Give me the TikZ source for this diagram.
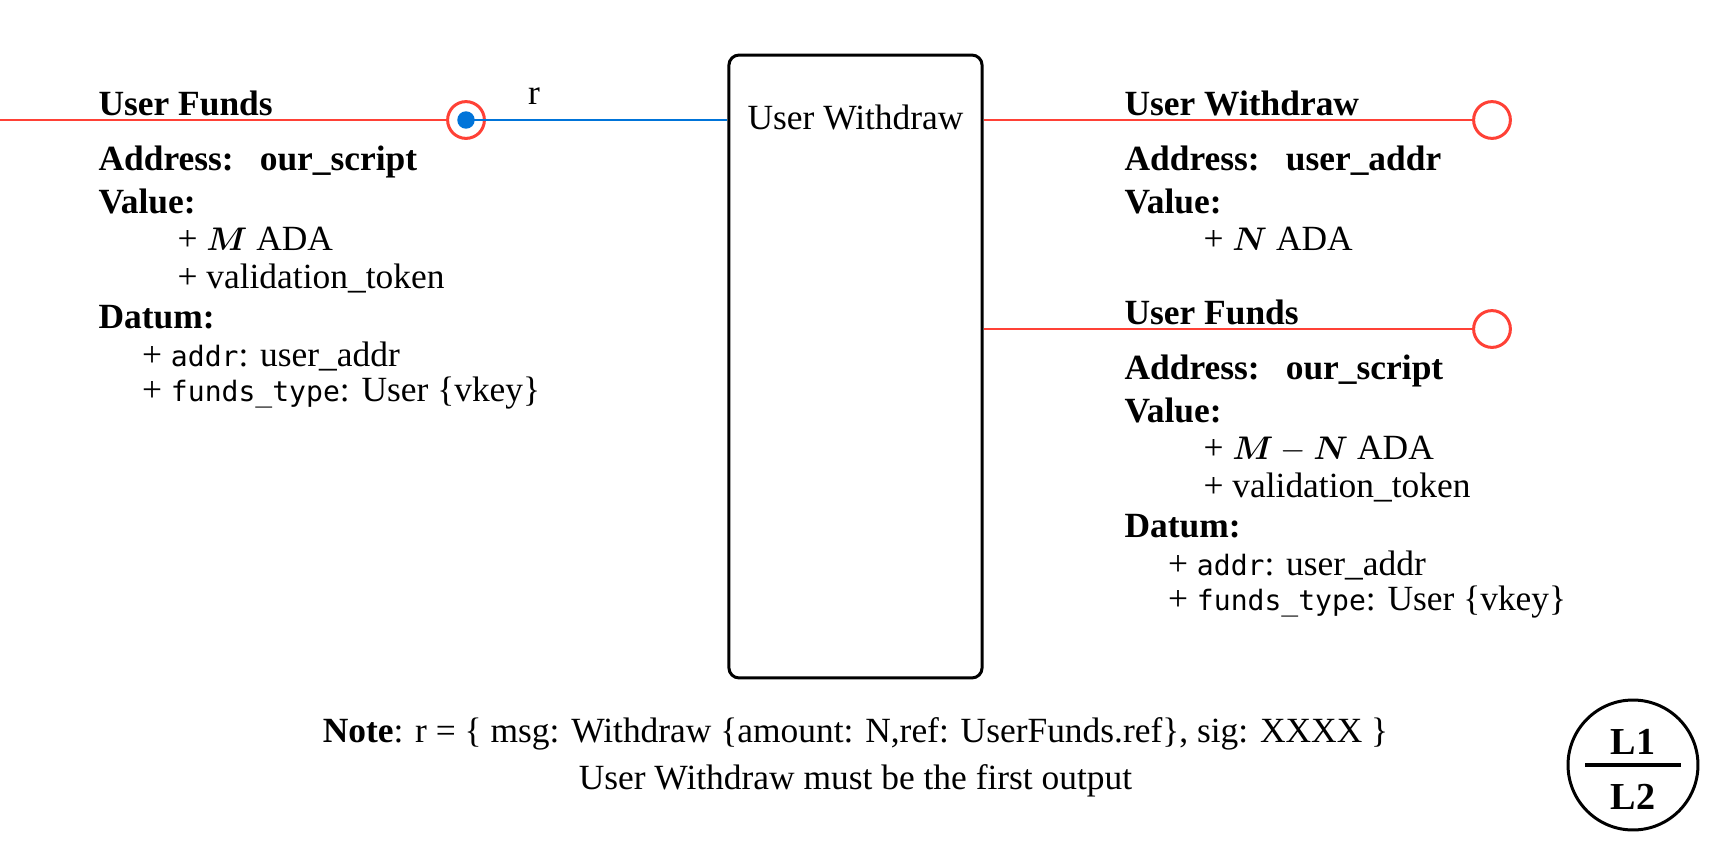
\documentclass[tikz,border=0pt]{standalone}
\usepackage{fontspec}
\setmainfont{Liberation Serif}
\setmonofont{DejaVu Sans Mono}
\usepackage{bm}
\usetikzlibrary{positioning}
\definecolor{utxored}{HTML}{FF4136}
\definecolor{utxoblue}{HTML}{0074D9}
\newcommand{\rawcode}[1]{{\fontsize{10.3}{12}\selectfont\ttfamily #1}}
\newcommand{\addrline}[1]{\makebox[59.2pt][l]{\textbf{Address:}}\textbf{#1}}

\begin{document}
\begin{tikzpicture}[x=0.367pt, y=-0.367pt,
  every node/.style={inner sep=0pt},
  font=\fontsize{13}{12.8}\selectfont,
  info/.style={anchor=base west},
  port/.style={circle, draw=utxored, line width=1.1pt, fill=white, minimum size=13.5pt},
  portdot/.style={circle, fill=utxoblue, minimum size=6.4pt},
  validator/.style={draw, line width=1.1pt, rounded corners=3.7pt,
                    minimum width=92.9pt, minimum height=228.6pt},
  redline/.style={draw=utxored, line width=1pt},
  blueline/.style={draw=utxoblue, line width=1pt},
  layertext/.style={anchor=base, font=\fontsize{14}{12.8}\selectfont\bfseries}
]
\useasboundingbox (0,0) rectangle (1709,843);

% Validator
\node[validator] (withdraw) at (855.5,366.5) {};
\node[anchor=base] (withdrawTitle) at (855.5,129) {User Withdraw};

% Ports
\coordinate (inStart) at (0,120);
\node[port] (inFunds) at (466,120) {};
\node[portdot] (inFundsDot) at (inFunds) {};
\node[port] (outWithdraw) at (1492,120) {};
\node[port] (outFunds) at (1492,329) {};

% Connectors
\draw[redline] (inStart) -- (inFunds);
\draw[blueline] (inFunds.center) -- (inFunds -| withdraw.west)
  node[pos=0.26, above=5.1pt] (rLabel) {r};
\draw[redline] (withdraw.east |- outWithdraw) -- (outWithdraw);
\draw[redline] (withdraw.east |- outFunds) -- (outFunds);

% Input
\node[info] (inFundsInfo) at (98,115) {\begin{tabular}[t]{@{}l@{}}
  \textbf{User Funds}\\[7.4pt]
  \addrline{our\_script}\\[3pt]
  \textbf{Value:}\\[0.8pt]
  \hspace*{29pt}+ $\bm{M}$ ADA\\[1.2pt]
  \hspace*{29pt}+ validation\_token\\[1.9pt]
  \textbf{Datum:}\\[1.1pt]
  \hspace*{16pt}+ \rawcode{addr}: user\_addr\\
  \hspace*{16pt}+ \rawcode{funds\_type}: User \{vkey\}
\end{tabular}};

% Outputs
\node[info] (outWithdrawInfo) at (1124,115) {\begin{tabular}[t]{@{}l@{}}
  \textbf{User Withdraw}\\[7.4pt]
  \addrline{user\_addr}\\[3pt]
  \textbf{Value:}\\[0.8pt]
  \hspace*{29pt}+ $\bm{N}$ ADA
\end{tabular}};

\node[info] (outFundsInfo) at (1124,324) {\begin{tabular}[t]{@{}l@{}}
  \textbf{User Funds}\\[7.4pt]
  \addrline{our\_script}\\[3pt]
  \textbf{Value:}\\[0.8pt]
  \hspace*{29pt}+ $\bm{M}-\bm{N}$ ADA\\[1.2pt]
  \hspace*{29pt}+ validation\_token\\[1.9pt]
  \textbf{Datum:}\\[1.1pt]
  \hspace*{16pt}+ \rawcode{addr}: user\_addr\\
  \hspace*{16pt}+ \rawcode{funds\_type}: User \{vkey\}
\end{tabular}};

% Note
\node[anchor=base] (note) at (855.5,742) {\begin{tabular}[t]{@{}c@{}}
  \textbf{Note}: r = \{ msg: Withdraw \{amount: N,ref: UserFunds.ref\}, sig: XXXX \}\\[4.6pt]
  User Withdraw must be the first output
\end{tabular}};

% Layer badge
\node[circle, draw, line width=1.1pt, minimum size=47.7pt] (layer) at (1633,765) {};
\draw[line width=1.2pt] ([xshift=-17.6pt]layer.center) -- ([xshift=17.6pt]layer.center);
\node[layertext] (layerTop) at (1633,754) {L1};
\node[layertext] (layerBottom) at (1633,809) {L2};

\end{tikzpicture}
\end{document}
